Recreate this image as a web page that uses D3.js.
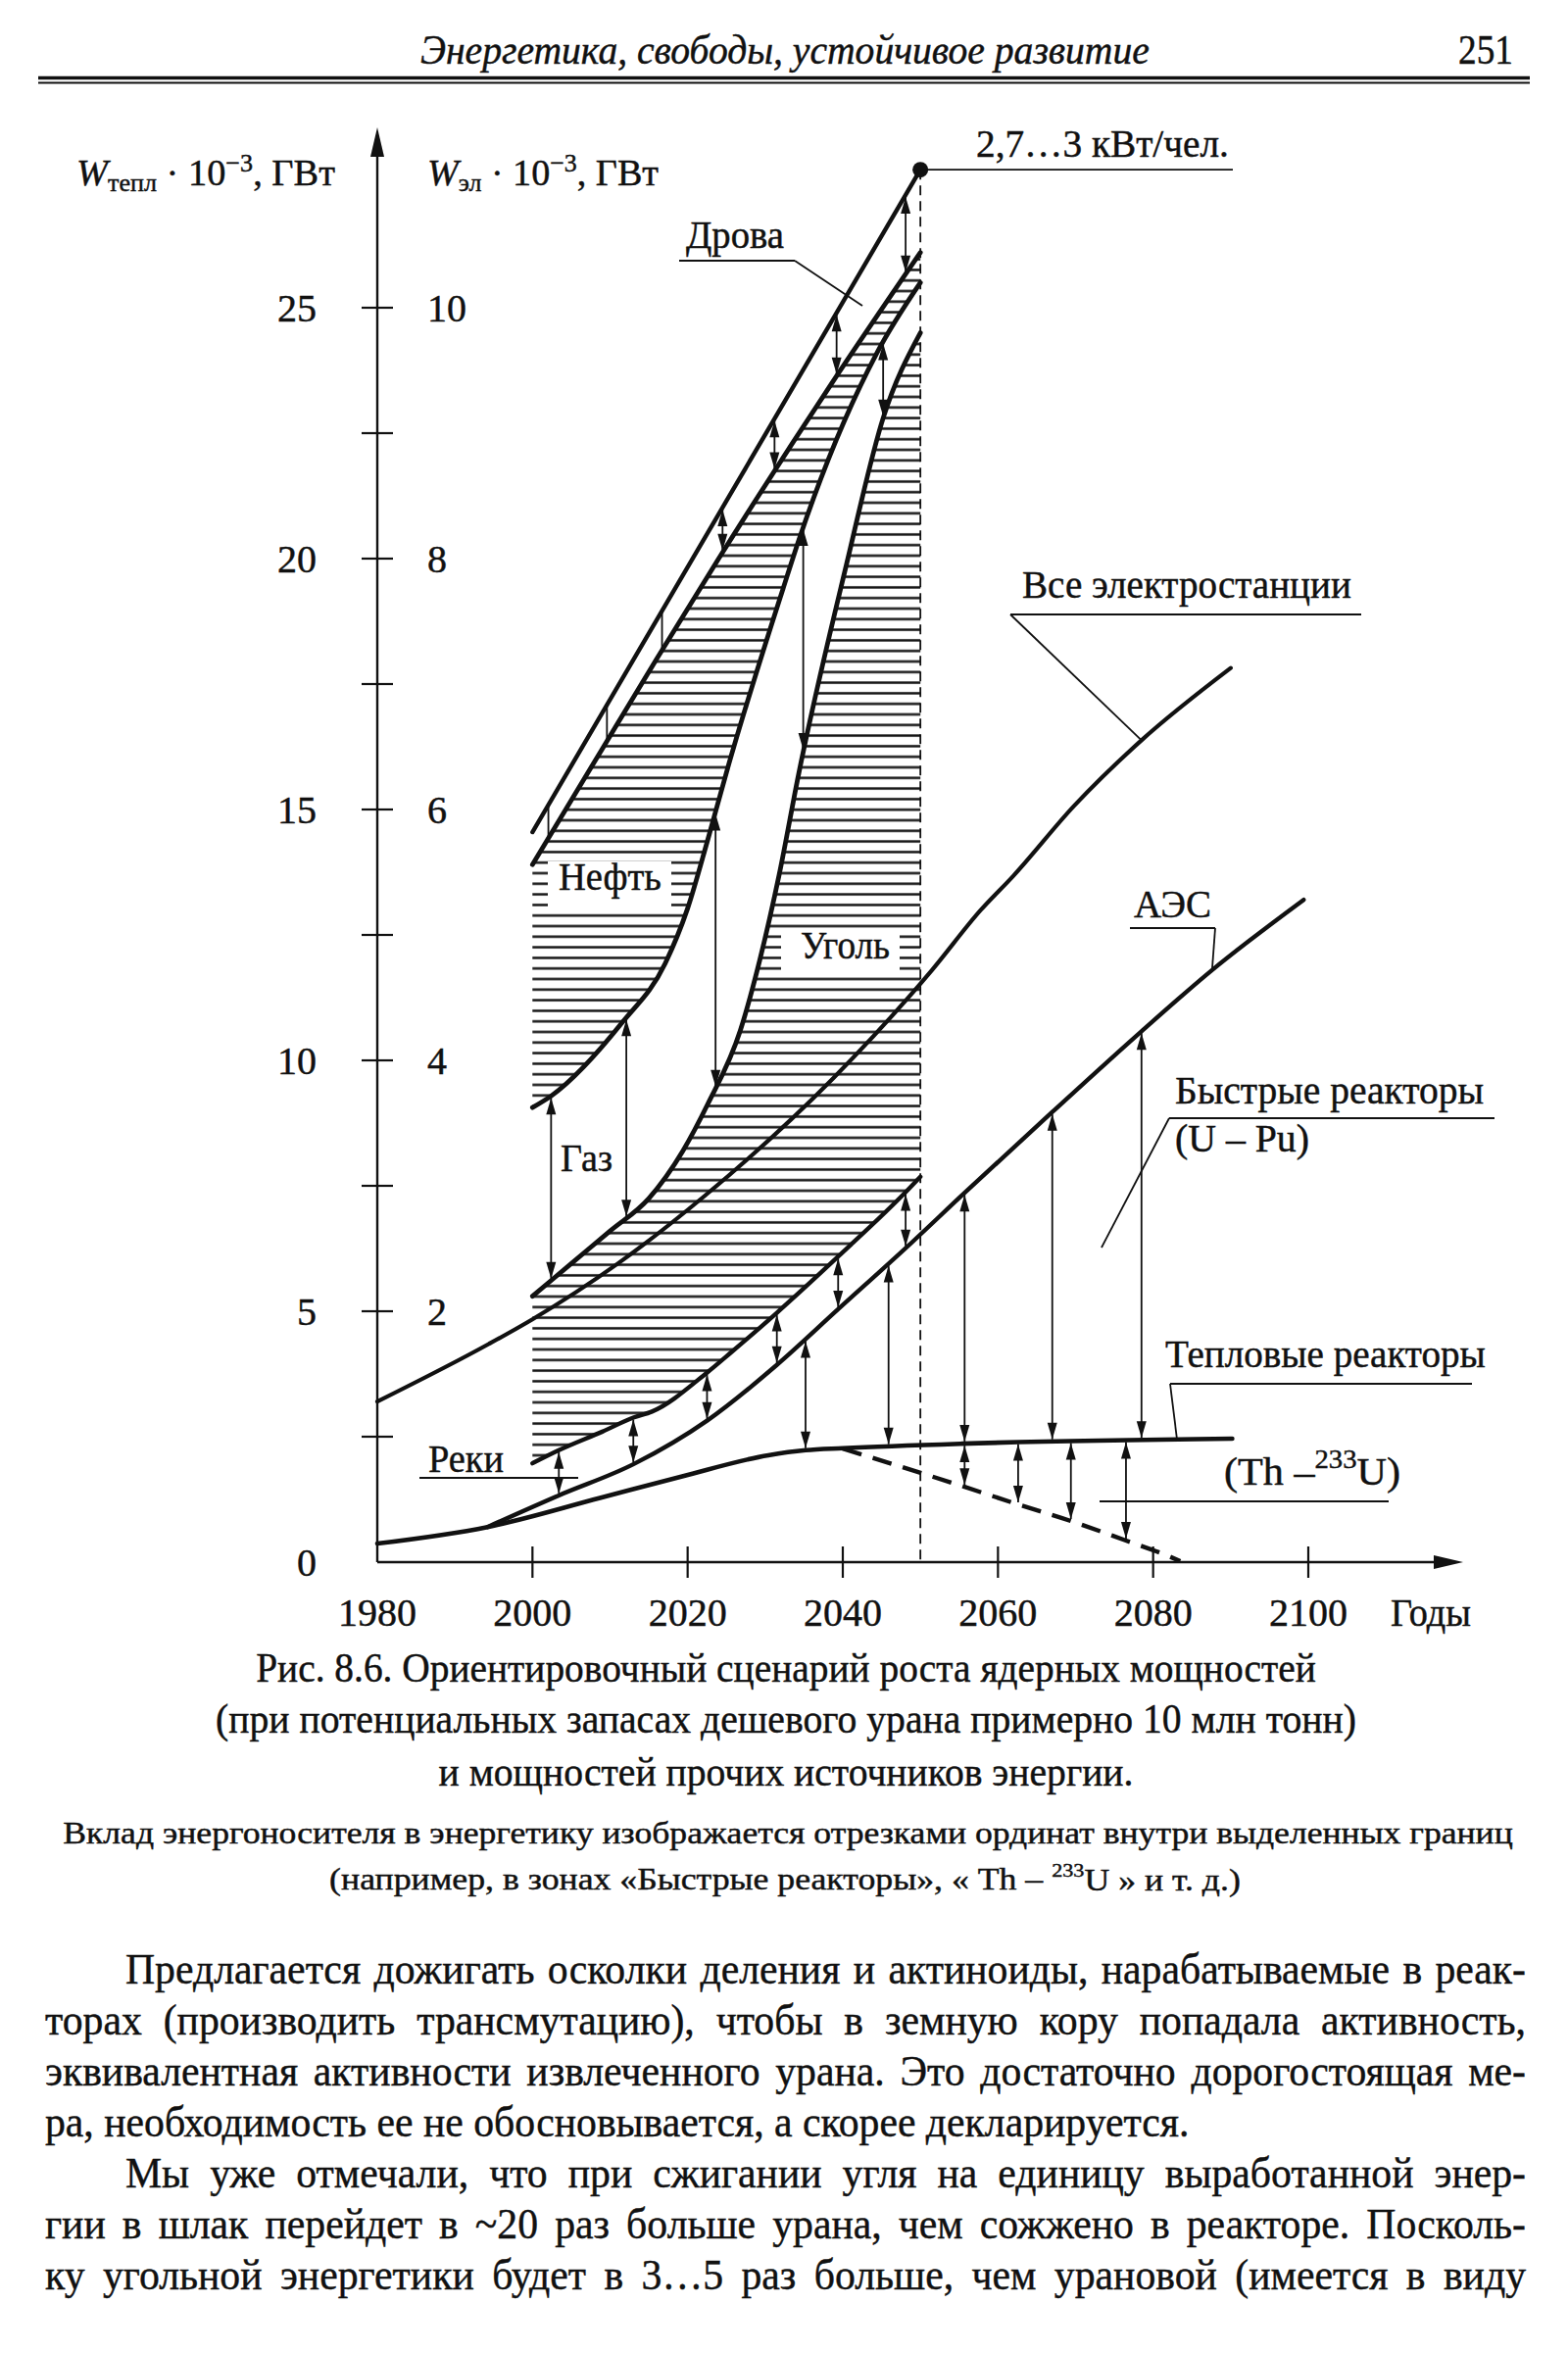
<!DOCTYPE html>
<html lang="ru"><head><meta charset="utf-8"><title>Рис. 8.6</title>
<script src="https://cdn.jsdelivr.net/npm/d3@7/dist/d3.min.js"></script>
<style>
html,body{margin:0;padding:0;background:#fff}
svg{display:block}
text{font-family:"Liberation Serif","Times New Roman",serif;fill:#111;stroke:#111;stroke-width:0.45px}
</style></head><body>
<svg id="page" width="1600" height="2401" viewBox="0 0 1600 2401"></svg>
<script>
// ================= DATA =================
const yearTickValues = [2000, 2020, 2040, 2060, 2080, 2100];
const yearLabelValues = [1980, 2000, 2020, 2040, 2060, 2080, 2100];
const yearLabels = ["1980", "2000", "2020", "2040", "2060", "2080", "2100"];
const thermalTickValues = [0, 5, 10, 15, 20, 25];
const thermalTickLabels = ["0", "5", "10", "15", "20", "25"];
const electricTickValues = [2, 4, 6, 8, 10];          // W_эл, 1 : 2.5 of W_тепл
const electricTickLabels = ["2", "4", "6", "8", "10"];
const minorTickValues = [2.5, 5, 7.5, 10, 12.5, 15, 17.5, 20, 22.5, 25];
const thermalPerElectric = 2.5;

// curves: [year, W_тепл·10^-3 GW]
const woodTop = [[2000, 14.55], [2025, 21.15], [2050, 27.75]];
const oilTop = [[2000, 13.9], [2008, 15.95], [2016, 18.0], [2024, 20.0], [2038.6, 23.5], [2050, 26.1]];
const gasTop = [[2000, 9.06], [2002.4, 9.29], [2011.6, 10.76], [2017.1, 11.93], [2020, 13.03], [2022.6, 14.4], [2025.3, 15.9], [2032.3, 19.4], [2034.4, 20.4], [2044.4, 24.1], [2050, 25.5]];
const coalTop = [[2000, 5.3], [2005, 5.95], [2010, 6.6], [2015, 7.25], [2019.4, 8.2], [2022.6, 9.13], [2026.8, 10.6], [2029.3, 12.0], [2031.8, 13.7], [2034.3, 15.7], [2040.5, 19.9], [2045.2, 22.8], [2050, 24.5]];
const allPlants = [[1980, 3.2], [1994.4, 4.35], [2000, 4.84], [2011, 5.95], [2022.2, 7.3], [2038.8, 9.65], [2051.5, 11.8], [2057.8, 13.0], [2062, 13.68], [2069.8, 15.07], [2078.5, 16.38], [2090, 17.82]];
const riversTop = [[2000, 1.97], [2003.4, 2.23], [2009, 2.6], [2013, 2.88], [2015.4, 3.0], [2022.6, 3.79], [2025.6, 4.18], [2031.5, 4.97], [2039.4, 6.09], [2048.4, 7.42], [2050, 7.68]];
const nppTotal = [[1994.2, 0.7], [2003.4, 1.33], [2013, 1.95], [2022.6, 2.83], [2031.5, 3.93], [2039.4, 5.04], [2048.4, 6.3], [2055.7, 7.36], [2067, 8.97], [2078.5, 10.58], [2087.6, 11.8], [2099.4, 13.2]];
const thermalReactors = [[1980, 0.37], [1994.2, 0.7], [2008.7, 1.28], [2019.3, 1.71], [2030.4, 2.13], [2035.2, 2.23], [2040, 2.27], [2055.3, 2.36], [2090.2, 2.46]];
const thU233Lower = [[2040, 2.26], [2055.7, 1.5], [2062.6, 1.15], [2069.4, 0.82], [2076.5, 0.43], [2081.5, 0.15], [2083.5, 0.02]];
const peakYear = 2050, peakValue = 27.75;
const hatchFrom = 2000, hatchTo = 2050;

// ordinate segments (years)
const woodTicks = [2002.05, 2009.6, 2016.7];
const woodArrows = [2024.5, 2031.2, 2039.2, 2048.1];
const gasArrows = [2002.4, 2012.1, 2023.6, 2034.9, 2045.2];
const riverArrows = [2003.4, 2013, 2022.5, 2031.5, 2039.4, 2048.1];
const fastArrows = [2035.2, 2045.9, 2055.7, 2067, 2078.5];
const thArrows = [2055.7, 2062.6, 2069.4, 2076.5];

// texts
const headerText = "Энергетика, свободы, устойчивое развитие";
const pageNumber = "251";
const captionLines = [
  "Рис. 8.6. Ориентировочный сценарий роста ядерных мощностей",
  "(при потенциальных запасах дешевого урана примерно 10 млн тонн)",
  "и мощностей прочих источников энергии."
];
const noteLine1 = "Вклад энергоносителя в энергетику изображается отрезками ординат внутри выделенных границ";
const bodyLines = [
  "Предлагается дожигать осколки деления и актиноиды, нарабатываемые в реак-",
  "торах (производить трансмутацию), чтобы в земную кору попадала активность,",
  "эквивалентная активности извлеченного урана. Это достаточно дорогостоящая ме-",
  "ра, необходимость ее не обосновывается, а скорее декларируется.",
  "Мы уже отмечали, что при сжигании угля на единицу выработанной энер-",
  "гии в шлак перейдет в ~20 раз больше урана, чем сожжено в реакторе. Посколь-",
  "ку угольной энергетики будет в 3…5 раз больше, чем урановой (имеется в виду"
];
const bodyIndent = [true, false, false, false, true, false, false];
const bodyJustify = [true, true, true, false, true, true, true];

// ================= DRAWING =================
const ink = "#111";
const svg = d3.select("#page");
const x = d3.scaleLinear().domain([1980, 2100]).range([385, 1335]);
const y = d3.scaleLinear().domain([0, 25]).range([1594, 314]);

// text placed at (xp, yp), horizontally scaled to a target width
function fitText(parent, xp, yp, fs, target, anchor) {
  const t = parent.append("text").attr("font-size", fs).attr("text-anchor", anchor || "start")
    .attr("transform", `translate(${xp},${yp})`);
  t.fit = function () {
    const w = t.node().getComputedTextLength();
    const r = target / w;
    t.attr("transform", `translate(${xp},${yp}) scale(${r},1)`);
    return r;
  };
  return t;
}

// ----- header -----
const hdr = fitText(svg, 429, 65, 42, 744).attr("font-style", "italic").text(headerText); hdr.fit();
const pg = fitText(svg, 1488, 65, 42, 56).text(pageNumber); pg.fit();
svg.append("line").attr("x1", 39).attr("x2", 1561).attr("y1", 79.5).attr("y2", 79.5)
  .attr("stroke", ink).attr("stroke-width", 3.5);
svg.append("line").attr("x1", 39).attr("x2", 1561).attr("y1", 84.5).attr("y2", 84.5)
  .attr("stroke", ink).attr("stroke-width", 2);

// ----- hatch pattern -----
const defs = svg.append("defs");
const pat = defs.append("pattern").attr("id", "hatch").attr("patternUnits", "userSpaceOnUse")
  .attr("width", 40).attr("height", 10.8);
pat.append("rect").attr("width", 40).attr("height", 10.8).attr("fill", "#fff");
pat.append("line").attr("x1", 0).attr("x2", 40).attr("y1", 5.4).attr("y2", 5.4)
  .attr("stroke", ink).attr("stroke-width", 2.3);

const gHatch = svg.append("g");
const gBoxes = svg.append("g");
const gCurves = svg.append("g").attr("fill", "none").attr("stroke", ink).attr("stroke-linecap", "round").attr("stroke-linejoin", "round");
const gArr = svg.append("g");
const gAxis = svg.append("g");
const gAnn = svg.append("g");

const lineGen = d3.line().x(d => x(d[0])).y(d => y(d[1])).curve(d3.curveMonotoneX);
function curve(data, w) {
  return gCurves.append("path").attr("d", lineGen(data)).attr("stroke-width", w || 4.6).node();
}
const nWood = curve(woodTop, 4.4);
const nOil = curve(oilTop, 4.8);
const nGas = curve(gasTop, 4.8);
const nCoal = curve(coalTop, 4.8);
const nAll = curve(allPlants, 4.2);
const nRiv = curve(riversTop, 4.4);
const nNpp = curve(nppTotal, 4.4);
const nTh = curve(thermalReactors, 4.6);
const nThLow = gCurves.append("path").attr("d", lineGen(thU233Lower)).attr("stroke-width", 4.4)
  .attr("stroke-linecap", "butt").attr("stroke-dasharray", "20 12").node();

function yAt(node, px) {
  const L = node.getTotalLength();
  let lo = 0, hi = L;
  for (let i = 0; i < 36; i++) {
    const mid = (lo + hi) / 2;
    if (node.getPointAtLength(mid).x < px) lo = mid; else hi = mid;
  }
  return node.getPointAtLength((lo + hi) / 2).y;
}

function band(topNode, botNode, y0, y1) {
  const xa = x(y0), xb = x(y1), top = [], bot = [];
  for (let px = xa; px < xb; px += 1.5) { top.push([px, yAt(topNode, px)]); bot.push([px, yAt(botNode, px)]); }
  top.push([xb, yAt(topNode, xb)]); bot.push([xb, yAt(botNode, xb)]);
  return "M" + top.concat(bot.reverse()).map(p => p[0].toFixed(1) + "," + p[1].toFixed(1)).join("L") + "Z";
}
gHatch.append("path").attr("d", band(nOil, nGas, hatchFrom, hatchTo)).attr("fill", "url(#hatch)");
gHatch.append("path").attr("d", band(nCoal, nRiv, hatchFrom, hatchTo)).attr("fill", "url(#hatch)");

// white boxes behind labels
gBoxes.append("rect").attr("x", 559).attr("y", 879).attr("width", 126).attr("height", 46).attr("fill", "#fff");
gBoxes.append("rect").attr("x", 797).attr("y", 947).attr("width", 121).attr("height", 50).attr("fill", "#fff");

// ----- ordinate arrows -----
function head(px, tipY, dir) {
  const L = 17, hw = 5;
  gArr.append("path").attr("d", `M${px},${tipY}L${px - hw},${tipY - dir * L}L${px + hw},${tipY - dir * L}Z`).attr("fill", ink);
}
function dbl(yr, topNode, botNode) {
  const px = x(yr);
  const t = yAt(topNode, px) + 2, b = yAt(botNode, px) - 2;
  gArr.append("line").attr("x1", px).attr("x2", px).attr("y1", t).attr("y2", b).attr("stroke", ink).attr("stroke-width", 1.8);
  head(px, t, -1); head(px, b, 1);
}
woodTicks.forEach(yr => {
  const px = x(yr);
  gArr.append("line").attr("x1", px).attr("x2", px).attr("y1", yAt(nWood, px)).attr("y2", yAt(nOil, px)).attr("stroke", ink).attr("stroke-width", 1.8);
});
woodArrows.forEach(yr => dbl(yr, nWood, nOil));
gasArrows.forEach(yr => dbl(yr, nGas, nCoal));
riverArrows.forEach(yr => dbl(yr, nRiv, nNpp));
fastArrows.forEach(yr => dbl(yr, nNpp, nTh));
thArrows.forEach(yr => dbl(yr, nTh, nThLow));

// ----- axes -----
const x0 = x(1980), y0 = y(0);
gAxis.append("line").attr("x1", x0).attr("x2", x0).attr("y1", y0).attr("y2", 150).attr("stroke", ink).attr("stroke-width", 2.4);
gAxis.append("path").attr("d", `M${x0},130L${x0 - 7},160L${x0 + 7},160Z`).attr("fill", ink);
gAxis.append("line").attr("x1", x0).attr("x2", 1470).attr("y1", y0).attr("y2", y0).attr("stroke", ink).attr("stroke-width", 2.4);
gAxis.append("path").attr("d", `M1493,${y0}L1463,${y0 - 7}L1463,${y0 + 7}Z`).attr("fill", ink);
minorTickValues.forEach(v => gAxis.append("line").attr("x1", x0 - 16).attr("x2", x0 + 16)
  .attr("y1", y(v)).attr("y2", y(v)).attr("stroke", ink).attr("stroke-width", 2.2));
yearTickValues.forEach(v => gAxis.append("line").attr("x1", x(v)).attr("x2", x(v))
  .attr("y1", y0 - 16).attr("y2", y0 + 16).attr("stroke", ink).attr("stroke-width", 2.2));

// dashed 2050 line and peak dot
gAxis.append("line").attr("x1", x(peakYear)).attr("x2", x(peakYear)).attr("y1", y(peakValue)).attr("y2", y0)
  .attr("stroke", ink).attr("stroke-width", 1.8).attr("stroke-dasharray", "10 6");
gAxis.append("circle").attr("cx", x(peakYear)).attr("cy", y(peakValue)).attr("r", 8).attr("fill", ink);

const FS = 40;
thermalTickValues.forEach((v, i) => gAxis.append("text").attr("x", 323).attr("y", y(v) + 14)
  .attr("text-anchor", "end").attr("font-size", FS).text(thermalTickLabels[i]));
electricTickValues.forEach((v, i) => gAxis.append("text").attr("x", 436).attr("y", y(v * thermalPerElectric) + 14)
  .attr("text-anchor", "start").attr("font-size", FS).text(electricTickLabels[i]));
yearLabelValues.forEach((v, i) => gAxis.append("text").attr("x", x(v)).attr("y", 1659)
  .attr("text-anchor", "middle").attr("font-size", FS).text(yearLabels[i]));
const gody = fitText(gAxis, 1419, 1659, FS, 82).text("Годы"); gody.fit();

function axisTitle(xp, sub, target) {
  const t = fitText(gAxis, xp, 189, 38, target);
  t.append("tspan").attr("font-style", "italic").text("W");
  t.append("tspan").attr("font-size", "0.68em").attr("dy", "0.22em").text(sub);
  t.append("tspan").attr("dy", "-0.15em").text(" · 10");
  t.append("tspan").attr("font-size", "0.68em").attr("dy", "-0.55em").text("−3");
  t.append("tspan").attr("dy", "0.37em").text(", ГВт");
  t.fit();
}
axisTitle(78, "тепл", 264);
axisTitle(436, "эл", 236);

// ----- annotations -----
function lbl(xp, yp, txt, target) { const t = fitText(gAnn, xp, yp, FS, target).text(txt); t.fit(); return t; }
function seg(x1, y1, x2, y2) { gAnn.append("line").attr("x1", x1).attr("y1", y1).attr("x2", x2).attr("y2", y2).attr("stroke", ink).attr("stroke-width", 1.8); }

lbl(996, 160, "2,7…3 кВт/чел.", 258);
seg(x(peakYear), y(peakValue), 1258, y(peakValue));
lbl(700, 253, "Дрова", 100);
seg(693, 266, 811, 266); seg(811, 266, 880, 312);
lbl(1043, 610, "Все электростанции", 336);
seg(1031, 627, 1389, 627); seg(1031, 627, x(2078.5), yAt(nAll, x(2078.5)));
lbl(1157, 936, "АЭС", 79);
seg(1153, 947, 1240, 947); seg(1240, 947, x(2087.6), yAt(nNpp, x(2087.6)));
lbl(1199, 1126, "Быстрые реакторы", 315);
lbl(1199, 1175, "(U – Pu)", 137);
seg(1193, 1141, 1525, 1141); seg(1193, 1141, 1124, 1273);
lbl(1189, 1395, "Тепловые реакторы", 327);
seg(1194, 1412, 1502, 1412); seg(1194, 1412, 1201, yAt(nTh, 1201));
const thl = fitText(gAnn, 1249, 1515, FS, 180).text("(Th –");
thl.append("tspan").attr("font-size", "0.68em").attr("dy", "-0.62em").text("233");
thl.append("tspan").attr("dy", "0.42em").text("U)");
thl.fit();
seg(1122, 1532, 1417, 1532);
lbl(570, 908, "Нефть", 105);
lbl(817, 978, "Уголь", 91);
lbl(572, 1195, "Газ", 53);
lbl(437, 1502, "Реки", 77);
seg(428, 1508, 590, 1508);

// ----- caption -----
const capBase = [1716, 1768, 1822];
const capWidth = [1082, 1164, 709];
captionLines.forEach((t, i) => {
  const s = fitText(svg, 802, capBase[i], 43, capWidth[i], "middle").text(t); s.fit();
});
const sans = "'Liberation Sans', Arial, sans-serif";
const n1 = fitText(svg, 804, 1881, 31, 1480, "middle").attr("font-family", sans).text(noteLine1); n1.fit();
const n2 = fitText(svg, 801, 1928, 31, 930, "middle").attr("font-family", sans);
n2.append("tspan").text("(например, в зонах «Быстрые реакторы», « Th – ");
n2.append("tspan").attr("font-size", "0.62em").attr("dy", "-0.7em").text("233");
n2.append("tspan").attr("dy", "0.45em").text("U » и т. д.)");
n2.fit();

// ----- body text -----
const bodyBase = [2024, 2076, 2128, 2180, 2232, 2284, 2336];
const bodyLeft = 46, bodyRight = 1557, bodyIndentX = 128;
const BFS = 45;
const probe = svg.append("text").attr("font-size", BFS).text(bodyLines[3]);
const rB = 1168 / probe.node().getComputedTextLength();
probe.remove();
bodyLines.forEach((t, i) => {
  const xs = bodyIndent[i] ? bodyIndentX : bodyLeft;
  const s = svg.append("text").attr("transform", `translate(${xs},${bodyBase[i]}) scale(${rB},1)`)
    .attr("font-size", BFS).text(t);
  if (bodyJustify[i]) {
    const w = s.node().getComputedTextLength();
    const n = (t.match(/ /g) || []).length;
    s.attr("word-spacing", ((bodyRight - xs) / rB - w) / n);
  }
});
</script>
</body></html>
